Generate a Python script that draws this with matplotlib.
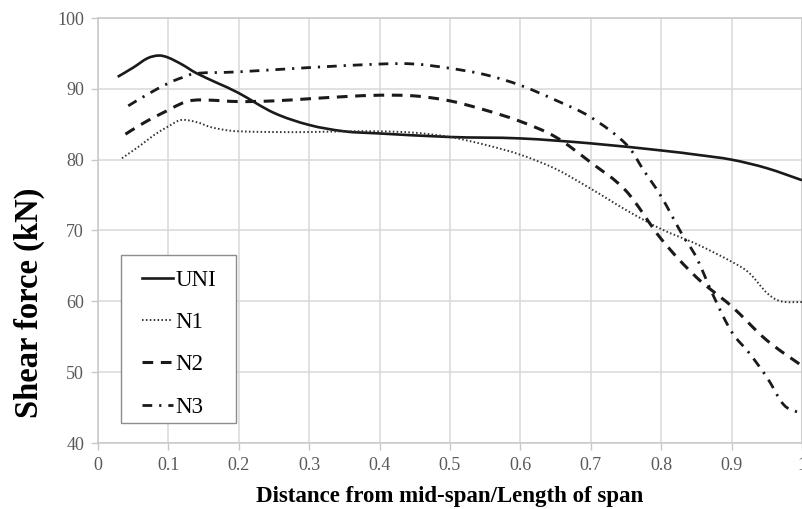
import matplotlib
matplotlib.use("Agg")
import matplotlib.pyplot as plt
from matplotlib.path import Path
from matplotlib.patches import PathPatch, Rectangle
from matplotlib.lines import Line2D

plt.rcParams['font.family'] = ['Liberation Serif', 'DejaVu Serif']

# ---- data ----
uni_x = [0.028, 0.05, 0.07, 0.086, 0.1, 0.12, 0.14, 0.17, 0.2, 0.25, 0.3, 0.35, 0.4,
         0.5, 0.6, 0.7, 0.8, 0.85, 0.9, 0.95, 1.0]
uni_y = [91.7, 93.0, 94.3, 94.7, 94.4, 93.4, 92.2, 90.8, 89.4, 86.6, 84.9, 84.0, 83.7,
         83.2, 83.0, 82.3, 81.3, 80.7, 80.0, 78.8, 77.1]

n1_x = [0.034, 0.06, 0.08, 0.1, 0.118, 0.14, 0.16, 0.18, 0.2, 0.25, 0.3, 0.35, 0.4, 0.45,
        0.5, 0.55, 0.6, 0.65, 0.7, 0.75, 0.8, 0.85, 0.9, 0.925, 0.95, 0.97, 1.0]
n1_y = [80.2, 82.0, 83.5, 84.7, 85.6, 85.3, 84.6, 84.2, 84.0, 83.9, 83.9, 84.0, 84.0, 83.8,
        83.2, 82.1, 80.7, 78.7, 75.9, 72.9, 70.2, 68.1, 65.6, 64.0, 61.2, 60.0, 59.9]

n2_x = [0.039, 0.06, 0.08, 0.1, 0.12, 0.137, 0.16, 0.2, 0.25, 0.3, 0.35, 0.4, 0.45, 0.5,
        0.55, 0.6, 0.65, 0.7, 0.75, 0.8, 0.85, 0.9, 0.95, 1.0]
n2_y = [83.6, 84.9, 86.0, 87.0, 88.0, 88.4, 88.4, 88.2, 88.3, 88.6, 88.9, 89.1, 89.0, 88.3,
        87.0, 85.4, 83.2, 79.6, 75.6, 68.8, 63.4, 59.3, 54.5, 50.9]

n3_x = [0.043, 0.07, 0.1, 0.12, 0.142, 0.2, 0.3, 0.4, 0.45, 0.5, 0.55, 0.6, 0.65, 0.7,
        0.75, 0.775, 0.8, 0.83, 0.85, 0.875, 0.9, 0.925, 0.95, 0.975, 1.0]
n3_y = [87.6, 89.2, 90.8, 91.6, 92.2, 92.4, 93.0, 93.5, 93.5, 92.9, 92.0, 90.5, 88.4, 86.0,
        82.2, 78.5, 74.8, 69.4, 66.2, 60.6, 55.7, 52.7, 49.3, 45.3, 44.2]

labels = ["UNI", "N1", "N2", "N3"]
x_ticks = [0, 0.1, 0.2, 0.3, 0.4, 0.5, 0.6, 0.7, 0.8, 0.9, 1.0]
x_tick_labels = ["0", "0.1", "0.2", "0.3", "0.4", "0.5", "0.6", "0.7", "0.8", "0.9", "1"]
y_ticks = [40, 50, 60, 70, 80, 90, 100]


def smooth_path(xs, ys):
    """Excel-style smoothed line: cubic Bezier segments through the data points."""
    pts = list(zip(xs, ys))
    n = len(pts)
    verts = [pts[0]]
    codes = [Path.MOVETO]
    for i in range(n - 1):
        p0 = pts[i - 1] if i > 0 else pts[i]
        p1 = pts[i]
        p2 = pts[i + 1]
        p3 = pts[i + 2] if i + 2 < n else pts[i + 1]
        c1 = (p1[0] + (p2[0] - p0[0]) / 6.0, p1[1] + (p2[1] - p0[1]) / 6.0)
        c2 = (p2[0] - (p3[0] - p1[0]) / 6.0, p2[1] - (p3[1] - p1[1]) / 6.0)
        verts += [c1, c2, p2]
        codes += [Path.CURVE4] * 3
    return Path(verts, codes)


W, H = 803, 509
fig = plt.figure(figsize=(W / 100, H / 100), dpi=100)
ax = fig.add_axes([98 / W, 66 / H, 704 / W, 425 / H])

styles = [
    dict(color='#1a1a1a', lw=1.9, ls='-'),
    dict(color='#333333', lw=1.4, ls=(0, (0.8, 1.2))),
    dict(color='#1a1a1a', lw=2.2, ls=(0, (3.5, 2.5))),
    dict(color='#1a1a1a', lw=2.0, ls=(0, (3.5, 2.5, 0.8, 2.5))),
]
series = [(uni_x, uni_y), (n1_x, n1_y), (n2_x, n2_y), (n3_x, n3_y)]
handles = []
for (xs, ys), st, lab in zip(series, styles, labels):
    patch = PathPatch(smooth_path(xs, ys), facecolor='none', edgecolor=st['color'],
                      lw=st['lw'], linestyle=st['ls'], capstyle='butt', zorder=3)
    ax.add_patch(patch)
    handles.append(Line2D([], [], color=st['color'], lw=st['lw'], linestyle=st['ls'],
                          label=lab))

ax.set_xlim(0, 1)
ax.set_ylim(40, 100)
ax.set_xticks(x_ticks)
ax.set_xticklabels(x_tick_labels)
ax.set_yticks(y_ticks)
ax.grid(True, color='#d9d9d9', lw=1.1)
ax.set_axisbelow(True)
for s in ax.spines.values():
    s.set_color('#c8c8c8')
    s.set_linewidth(1.1)
ax.tick_params(axis='both', colors='#c8c8c8', labelcolor='#595959', labelsize=13,
               length=5, width=1.0, pad=5)

ax.set_xlabel("Distance from mid-span/Length of span", fontsize=16.5, fontweight='bold',
              labelpad=9)
ax.set_ylabel("Shear force (kN)", fontsize=23.5, fontweight='bold')
ax.yaxis.set_label_coords((45 - 98) / 704, (443 - 303) / 425)

# legend box (frame drawn separately to get the wide side padding of the original)
box = Rectangle(((121 - 98) / 704, (443 - 423) / 425), 115 / 704, 168 / 425,
                transform=ax.transAxes, facecolor='white', edgecolor='#8c8c8c',
                lw=1.0, zorder=4)
ax.add_patch(box)
leg = ax.legend(handles=handles, loc='upper left',
                bbox_to_anchor=((142 - 98) / 704, (443 - 269.5) / 425),
                borderaxespad=0, fontsize=16.5, frameon=False,
                handlelength=1.35, handletextpad=0.1,
                labelspacing=0.93, borderpad=0)
leg.set_zorder(5)

fig.savefig("out.png", dpi=100)
